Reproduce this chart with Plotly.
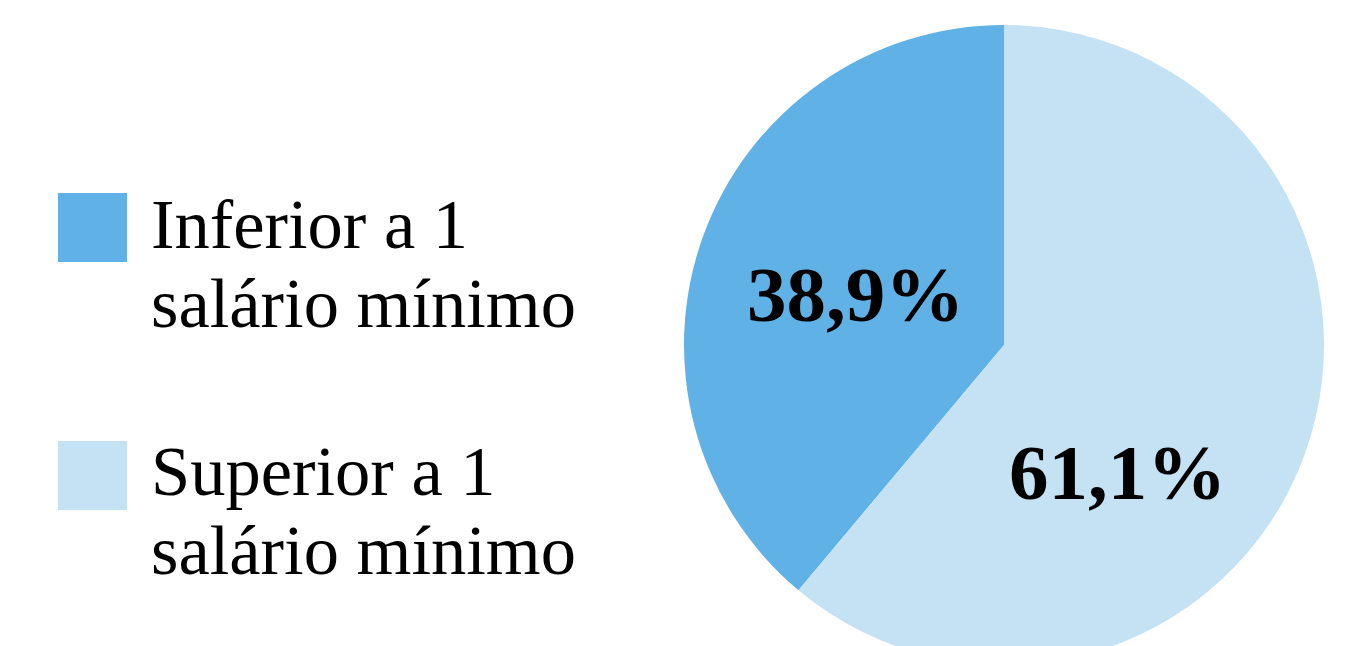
import plotly.graph_objects as go

categories = ["Inferior a 1 salário mínimo", "Superior a 1 salário mínimo"]
legend_lines = [["Inferior a 1", "salário mínimo"], ["Superior a 1", "salário mínimo"]]
values = [38.9, 61.1]
colors = ["#60B1E6", "#C5E1F4"]

W, H = 1359, 680

def px(x):
    return x / W

def py(y):
    return 1 - y / H

# first slice ends at 12 o'clock, spreading to the left
start_rotation = -values[0] / sum(values) * 360

fig = go.Figure(go.Pie(
    labels=categories,
    values=values,
    sort=False,
    direction="clockwise",
    rotation=start_rotation,
    marker=dict(colors=colors, line=dict(width=0)),
    textinfo="none",
    hoverinfo="label+percent",
    showlegend=False,
    domain=dict(x=[px(684), px(1324)], y=[py(665), py(25)]),
))

annotations = []
shapes = []
# legend
sq_tops = [193, 441]
base1 = [245, 492]
for i, lines in enumerate(legend_lines):
    shapes.append(dict(type="rect", xref="paper", yref="paper",
                       x0=px(58), x1=px(127), y0=py(sq_tops[i]), y1=py(sq_tops[i] + 69),
                       fillcolor=colors[i], line=dict(width=0)))
    for j, t in enumerate(lines):
        b = base1[i] + 79 * j
        annotations.append(dict(text=t, xref="paper", yref="paper",
                                x=px(149), y=py(b - 0.3 * 70.5), xanchor="left", yanchor="middle",
                                showarrow=False,
                                font=dict(family="Liberation Serif", size=70.5, color="#000000")))

# percentage labels
label_pos = [(855, 318), (1117, 496)]
for v, (cx, bl) in zip(values, label_pos):
    txt = f"{v:.1f}".replace(".", ",") + "%"
    annotations.append(dict(text=f"<b>{txt}</b>", xref="paper", yref="paper",
                            x=px(cx), y=py(bl - 0.3 * 79), xanchor="center", yanchor="middle",
                            showarrow=False,
                            font=dict(family="Liberation Serif", size=79, color="#000000")))

fig.update_layout(
    width=W, height=H,
    margin=dict(l=0, r=0, t=0, b=0),
    paper_bgcolor="white", plot_bgcolor="white",
    annotations=annotations, shapes=shapes,
)

fig.write_html("out.html",
               post_script="document.documentElement.style.overflow='hidden';document.body.style.overflow='hidden';document.body.style.margin='0';")
